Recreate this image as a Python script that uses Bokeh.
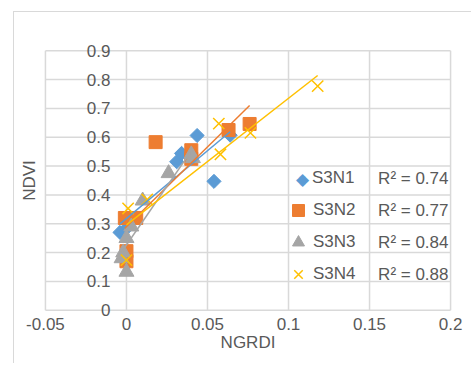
import numpy as np
from bokeh.plotting import figure
from bokeh.layouts import column, row
from bokeh.models import (LinearAxis, FixedTicker, Legend, LegendItem, Label,
                          Range1d, ColumnDataSource, Spacer)
from bokeh.embed import file_html
from bokeh.resources import INLINE

# ---------------- data ----------------
series_names = ["S3N1", "S3N2", "S3N3", "S3N4"]
r_squared = ["0.74", "0.77", "0.84", "0.88"]

s3n1_x = [-0.004, 0.001, 0.031, 0.034, 0.0436, 0.054, 0.064]
s3n1_y = [0.27, 0.29, 0.515, 0.544, 0.606, 0.447, 0.607]

s3n2_x = [-0.001, 0.006, 0.0, 0.0, 0.018, 0.040, 0.040, 0.063, 0.076]
s3n2_y = [0.32, 0.32, 0.205, 0.17, 0.583, 0.555, 0.525, 0.625, 0.646]

s3n3_x = [0.040, 0.041, 0.026, 0.010, 0.003, 0.0, -0.002, 0.0, -0.003]
s3n3_y = [0.54, 0.527, 0.475, 0.38, 0.29, 0.25, 0.20, 0.133, 0.18]

s3n4_x = [0.118, 0.057, 0.0765, 0.058, 0.0128, 0.001, 0.0]
s3n4_y = [0.777, 0.647, 0.615, 0.541, 0.384, 0.353, 0.174]

x_ticks = [-0.05, 0.0, 0.05, 0.1, 0.15, 0.2]
x_tick_labels = ["-0.05", "0", "0.05", "0.1", "0.15", "0.2"]
y_ticks = [0.0, 0.1, 0.2, 0.3, 0.4, 0.5, 0.6, 0.7, 0.8, 0.9]
y_tick_labels = ["0", "0.1", "0.2", "0.3", "0.4", "0.5", "0.6", "0.7", "0.8", "0.9"]

# ---------------- styles ----------------
colors = ["#5B9BD5", "#ED7D31", "#A5A5A5", "#FFC000"]
markers = ["square", "square", "triangle", "x"]
sizes = [10, 13, 15, 16]
angles = [np.pi / 4, 0, 0, 0]
FONT = "Liberation Sans"
TXT = "#595959"
GRID = "#d9d9d9"
FS = "17px"

x_lo, x_hi = x_ticks[0], x_ticks[-1]
y_lo, y_hi = y_ticks[0], y_ticks[-1]

# the frame is a little larger than the plot area so that the tick labels
# that sit next to the axis at x = 0 are not clipped
p = figure(width=458, height=352, output_backend="svg", toolbar_location=None,
           x_range=Range1d(x_lo - 0.0012, x_hi + 0.0012),
           y_range=Range1d(y_lo - 0.025, y_hi + 0.025),
           y_axis_location=None,
           min_border_left=29, min_border_right=20, min_border_top=31,
           min_border_bottom=47)
p.styles = {"border-left": "1px solid #d9d9d9", "border-top": "1px solid #d9d9d9"}
p.outline_line_color = None
p.background_fill_color = "white"
p.border_fill_color = "white"
p.xgrid.visible = False
p.ygrid.visible = False

# gridlines of the plot area
p.segment(x0=[x_lo] * len(y_ticks), x1=[x_hi] * len(y_ticks), y0=y_ticks, y1=y_ticks,
          line_color=GRID, line_width=1.5)
p.segment(x0=x_ticks, x1=x_ticks, y0=[y_lo] * len(x_ticks), y1=[y_hi] * len(x_ticks),
          line_color=GRID, line_width=1.5)

# x axis (labels only, the line is the y = 0 gridline)
xa = p.xaxis[0]
xa.ticker = FixedTicker(ticks=x_ticks)
xa.major_label_overrides = {t: l for t, l in zip(x_ticks, x_tick_labels)}
xa.axis_label = "NGRDI"
xa.axis_label_text_font_style = "normal"
xa.axis_label_text_font = FONT
xa.axis_label_text_font_size = FS
xa.axis_label_text_color = TXT
xa.axis_label_standoff = 0
xa.major_label_text_font = FONT
xa.major_label_text_font_size = FS
xa.major_label_text_color = TXT
xa.major_label_standoff = 0
xa.major_tick_out = 0
xa.major_tick_in = 0
xa.minor_tick_out = 0
xa.minor_tick_in = 0
xa.axis_line_color = None

# y axis title at the left edge
ytitle = LinearAxis(axis_label="NDVI", ticker=FixedTicker(ticks=[]),
                    axis_line_color=None, major_tick_out=0, major_tick_in=0,
                    minor_tick_out=0, minor_tick_in=0,
                    major_label_text_font_size="0px",
                    axis_label_text_font=FONT, axis_label_text_font_size=FS,
                    axis_label_text_color=TXT, axis_label_text_font_style="normal",
                    axis_label_standoff=5)
p.add_layout(ytitle, "left")

# y tick labels next to the vertical axis at x = 0
for t, lab in zip(y_ticks, y_tick_labels):
    p.add_layout(Label(x=0.0, y=t, text=lab, x_offset=-16,
                       text_align="right", text_baseline="middle",
                       text_font=FONT, text_font_size=FS, text_color=TXT))

# ---------------- marks ----------------
xs_all = [s3n1_x, s3n2_x, s3n3_x, s3n4_x]
ys_all = [s3n1_y, s3n2_y, s3n3_y, s3n4_y]

scatter_renderers = []
for xs, ys, c, m, s, a in zip(xs_all, ys_all, colors, markers, sizes, angles):
    src = ColumnDataSource(dict(x=xs, y=ys))
    if m == "x":
        r = p.scatter("x", "y", source=src, marker=m, size=s, line_color=c,
                      line_width=1.5)
    else:
        r = p.scatter("x", "y", source=src, marker=m, size=s, angle=a,
                      fill_color=c, line_color=c, line_width=1)
    scatter_renderers.append(r)

# linear trendlines (least squares fit of each series)
for xs, ys, c in zip(xs_all, ys_all, colors):
    xv = np.array(xs)
    yv = np.array(ys)
    k, b = np.polyfit(xv, yv, 1)
    xl = np.array([xv.min(), xv.max()])
    p.line(xl, k * xl + b, line_color=c, line_width=1.5)

# ---------------- legend ----------------
common = dict(orientation="vertical", padding=0, margin=0,
              border_line_color=None, background_fill_alpha=0,
              label_text_font=FONT, label_text_font_size=FS,
              label_text_color=TXT, label_height=20)

# legend markers can't be rotated, so the S3N1 entry gets an empty glyph
# plus a diamond character
blank = p.scatter(x=[], y=[], marker="square", fill_alpha=0, line_alpha=0)
legend_a = Legend(items=[LegendItem(label=series_names[0], renderers=[blank])],
                  location=(249, 126), glyph_width=20, glyph_height=26,
                  spacing=0, label_standoff=0, **common)
legend_b = Legend(items=[LegendItem(label=n, renderers=[r])
                         for n, r in zip(series_names[1:], scatter_renderers[1:])],
                  location=(240, 28), glyph_width=30, glyph_height=30,
                  spacing=2, label_standoff=0, **common)
p.add_layout(legend_a, "center")
p.add_layout(legend_b, "center")
p.add_layout(Label(x=259, y=139, x_units="screen", y_units="screen",
                   text="\u25c6", text_align="center", text_baseline="middle",
                   text_font="DejaVu Sans", text_font_size="17px",
                   text_color=colors[0]))

row_step = 32
for i, r2 in enumerate(r_squared):
    p.add_layout(Label(x=405, y=139 - i * row_step, x_units="screen", y_units="screen",
                       text="R\u00b2 = " + r2, text_align="right",
                       text_baseline="middle", text_font=FONT,
                       text_font_size=FS, text_color=TXT))

page = column(Spacer(height=11), row(Spacer(width=13), p))
open("out.html", "w").write(file_html(page, INLINE))
